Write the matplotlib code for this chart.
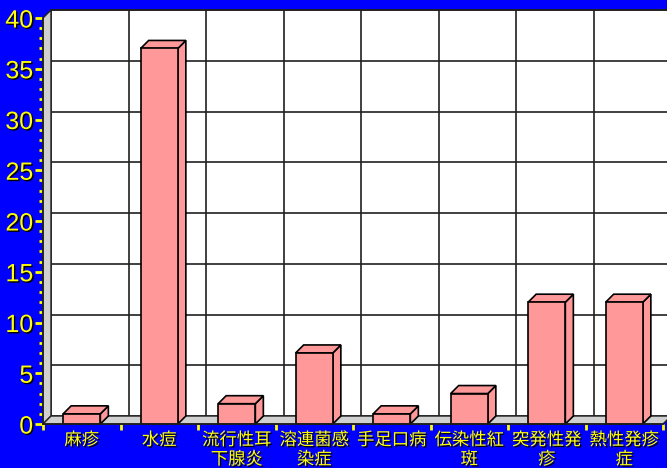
import matplotlib.pyplot as plt
import matplotlib.patheffects as pe
from matplotlib.patches import Polygon
import numpy as np

# data
categories = ['麻疹', '水痘', '流行性耳\n下腺炎', '溶連菌感\n染症', '手足口病',
              '伝染性紅\n斑', '突発性発\n疹', '熱性発疹\n症']
values = [1, 37, 2, 7, 1, 3, 12, 12]
y_ticks = list(range(0, 41, 5))

bg_color = '#0000FF'
text_color = '#FFFF00'
bar_color = '#FF9999'
wall_color = '#D0D0D0'

fig = plt.figure(figsize=(6.67, 4.68), dpi=100, facecolor=bg_color)
# front plane of the chart (pixels measured on the reference)
ax = fig.add_axes([43 / 667, 44 / 468, 620 / 667, 406 / 468])
ax.set_facecolor('none')
n = len(categories)
ax.set_xlim(0, n)
ax.set_ylim(0, 40)

# depth of the 3D effect, 8 px converted to data units
depth_px = 8
dx = depth_px / (620 / n)
dy = depth_px / (406 / 40)

shadow = [pe.withSimplePatchShadow(offset=(1, -1), shadow_rgbFace='black', alpha=1.0)]

# back wall
ax.add_patch(Polygon([(dx, dy), (n + dx, dy), (n + dx, 40 + dy), (dx, 40 + dy)],
                     closed=True, facecolor='white', edgecolor='#202020',
                     linewidth=1.2, clip_on=False, zorder=1))
for y in y_ticks[1:]:
    ax.plot([dx, n + dx], [y + dy, y + dy], color='#202020', lw=1.2,
            clip_on=False, zorder=2)
for x in range(1, n):
    ax.plot([x + dx, x + dx], [dy, 40 + dy], color='#202020', lw=1.2,
            clip_on=False, zorder=2)

# left wall and floor
ax.add_patch(Polygon([(0, 0), (dx, dy), (dx, 40 + dy), (0, 40)], closed=True,
                     facecolor=wall_color, edgecolor='#202020', linewidth=1.0,
                     clip_on=False, zorder=3))
ax.add_patch(Polygon([(0, 0), (n, 0), (n + dx, dy), (dx, dy)], closed=True,
                     facecolor=wall_color, edgecolor='#202020', linewidth=1.0,
                     clip_on=False, zorder=3))

# 3D bars
w = 0.48
for i, v in enumerate(values):
    x0 = i + 0.5 - w / 2
    x1 = x0 + w
    side = [(x1, 0), (x1 + dx, dy), (x1 + dx, v + dy), (x1, v)]
    top = [(x0, v), (x1, v), (x1 + dx, v + dy), (x0 + dx, v + dy)]
    for face in (side, top):
        ax.add_patch(Polygon(face, closed=True, facecolor=bar_color,
                             edgecolor='black', linewidth=1.2,
                             clip_on=False, zorder=4))
    ax.bar(x0, v, width=w, align='edge', color=bar_color, edgecolor='black',
           linewidth=1.2, zorder=5, clip_on=False)

# axes styling
for side_name in ['top', 'right']:
    ax.spines[side_name].set_visible(False)
for side_name in ['left', 'bottom']:
    ax.spines[side_name].set_color('#202020')
    ax.spines[side_name].set_linewidth(1.2)
    ax.spines[side_name].set_zorder(6)

ax.set_yticks(y_ticks)
ax.set_yticks(range(0, 41), minor=True)
ax.tick_params(axis='y', which='major', length=6, width=2, color=text_color,
               labelcolor=text_color, labelsize=18, pad=1)
ax.tick_params(axis='y', which='minor', length=3, width=2, color=text_color)
for lbl in ax.get_yticklabels():
    lbl.set_family(['Liberation Sans', 'DejaVu Sans'])
    lbl.set_path_effects(shadow)

ax.set_xticks(range(0, n + 1))
ax.set_xticklabels([''] * (n + 1))
ax.set_xticks(np.arange(n) + 0.5, categories, minor=True)
ax.tick_params(axis='x', which='major', length=4, width=2, color=text_color)
ax.tick_params(axis='x', which='minor', length=0, pad=5,
               labelcolor=text_color, labelsize=12.5)
for lbl in ax.get_xticklabels(minor=True):
    lbl.set_family(['Noto Sans CJK JP', 'DejaVu Sans'])
    lbl.set_linespacing(1.1)
    lbl.set_path_effects(shadow)

plt.savefig('out.png', dpi=100, facecolor=bg_color)
